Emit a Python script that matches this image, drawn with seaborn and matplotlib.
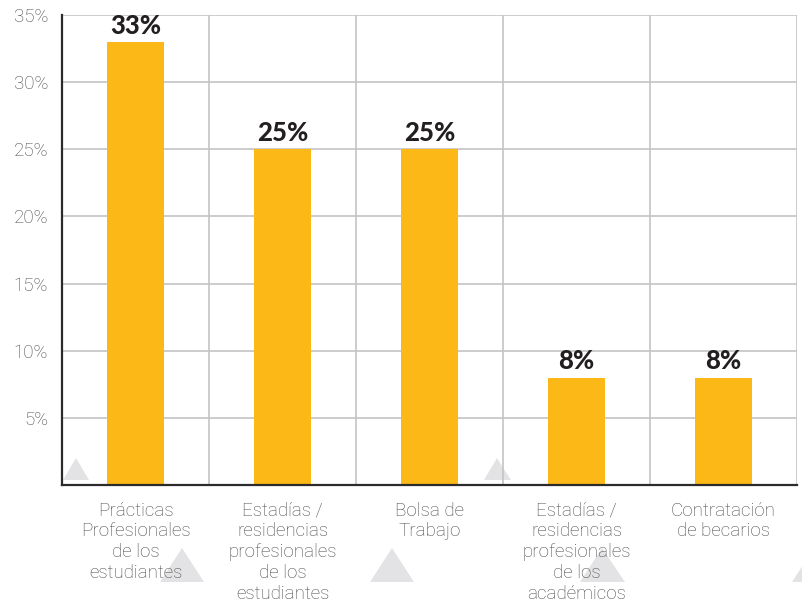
import matplotlib
matplotlib.use("Agg")
import matplotlib.pyplot as plt
from matplotlib.patches import Polygon
import seaborn as sns
import pandas as pd

categories = [
    "Prácticas\nProfesionales\nde los\nestudiantes",
    "Estadías /\nresidencias\nprofesionales\nde los\nestudiantes",
    "Bolsa de\nTrabajo",
    "Estadías /\nresidencias\nprofesionales\nde los\nacadémicos",
    "Contratación\nde becarios",
]
values = [33, 25, 25, 8, 8]
y_ticks = [5, 10, 15, 20, 25, 30, 35]

df = pd.DataFrame({"categoria": categories, "porcentaje": values})

sns.set_theme(style="white")
plt.rcParams["font.family"] = ["Roboto", "DejaVu Sans"]

fig = plt.figure(figsize=(8.03, 6.02), dpi=100)

# light grey decorative triangles in the background (figure pixel coords)
tri_color = "#e3e3e5"
triangles = [
    [(63, 480), (89, 480), (76, 458)],
    [(160, 582), (204, 582), (182, 548)],
    [(370, 582), (414, 582), (392, 548)],
    [(484, 480), (511, 480), (497, 458)],
    [(580, 582), (625, 582), (602, 548)],
    [(792, 582), (836, 582), (814, 548)],
]
W, H = 803, 602
for tri in triangles:
    pts = [(x / W, 1 - y / H) for x, y in tri]
    fig.patches.append(Polygon(pts, closed=True, transform=fig.transFigure,
                               facecolor=tri_color, edgecolor="none", zorder=0))

ax = fig.add_axes([62 / W, 1 - 485 / H, (797 - 62) / W, (485 - 15) / H])
ax.set_zorder(2)
ax.patch.set_alpha(0)

sns.barplot(data=df, x="categoria", y="porcentaje", color="#FBB817",
            saturation=1, width=0.39, linewidth=0, ax=ax, zorder=3)

ax.set_ylim(0, 35)
ax.set_xlim(-0.5, len(categories) - 0.5)
ax.set_yticks(y_ticks)
ax.set_yticklabels([f"{t}%" for t in y_ticks])
ax.set_xlabel("")
ax.set_ylabel("")

# grid: horizontal at ticks, vertical at category boundaries
grid_color = "#c4c4c4"
for t in y_ticks:
    ax.axhline(t, color=grid_color, lw=1.2, zorder=1)
for b in range(1, len(categories) + 1):
    ax.axvline(b - 0.5, color=grid_color, lw=1.2, zorder=1)

for side in ["top", "right"]:
    ax.spines[side].set_visible(False)
for side in ["left", "bottom"]:
    ax.spines[side].set_color("#2b2b2b")
    ax.spines[side].set_linewidth(1.6)
    ax.spines[side].set_zorder(4)

ax.tick_params(axis="y", length=0, pad=10, labelsize=13.5, labelcolor="#4a4a4a")
ax.tick_params(axis="x", length=0, pad=12, labelsize=13.5, labelcolor="#4a4a4a")
for lbl in ax.get_yticklabels():
    lbl.set_fontweight("light")
for lbl in ax.get_xticklabels():
    lbl.set_horizontalalignment("center")
    lbl.set_linespacing(1.2)
    lbl.set_fontweight("light")

for i, v in enumerate(values):
    ax.annotate(f"{v}%", (i, v), xytext=(0, 3), textcoords="offset points",
                ha="center", va="bottom", fontsize=18.5, fontweight="black",
                family=["Lato", "DejaVu Sans"], color="#231f20", zorder=5)

fig.savefig("out.png", dpi=100)
